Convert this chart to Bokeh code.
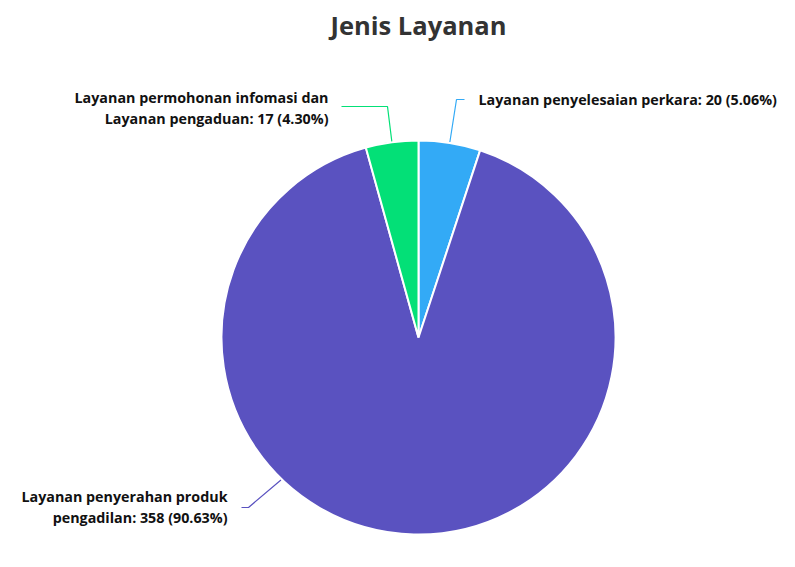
import math
from bokeh.plotting import figure
from bokeh.models import Range1d
from bokeh.core.properties import value
from bokeh.embed import file_html
from bokeh.resources import INLINE

# ---- data ----
title = "Jenis Layanan"
categories = [
    "Layanan penyelesaian perkara",
    "Layanan penyerahan produk pengadilan",
    "Layanan permohonan infomasi dan Layanan pengaduan",
]
values = [20, 358, 17]
colors = ["#33AAF6", "#5A52C0", "#03E077"]
# label text lines (how the label wraps)
label_lines = [
    ["Layanan penyelesaian perkara: {v} ({p})"],
    ["Layanan penyerahan produk", "pengadilan: {v} ({p})"],
    ["Layanan permohonan infomasi dan", "Layanan pengaduan: {v} ({p})"],
]

# ---- layout (screen pixel coordinates) ----
W, H = 779, 551
cx, cy, R = 418, 337, 197
FONT = "Open Sans"

def Y(py):
    return H - py

label_layout = [
    dict(anchor_deg=None, elbow=(456, 99), end=(464, 99), tx=478, align="left", ty=99),
    dict(anchor_deg=224, elbow=(248, 507), end=(241, 507), tx=227, align="right", ty=496),
    dict(anchor_deg=None, elbow=(387, 106), end=(341, 106), tx=328, align="right", ty=97),
]

p = figure(width=W, height=H, output_backend="svg", toolbar_location=None,
           x_range=Range1d(0, W), y_range=Range1d(0, H),
           min_border=0, outline_line_color=None)
p.axis.visible = False
p.grid.visible = False
p.background_fill_color = "white"
p.border_fill_color = "white"

total = sum(values)
cum = 0.0
for i, v in enumerate(values):
    frac = v / total
    a0 = math.pi / 2 - 2 * math.pi * cum
    a1 = math.pi / 2 - 2 * math.pi * (cum + frac)
    p.wedge(x=[cx], y=[Y(cy)], radius=R, start_angle=a0, end_angle=a1,
            direction="clock", fill_color=colors[i], line_color="white", line_width=2)
    mid_deg = 360 * (cum + frac / 2)
    cum += frac

    lay = label_layout[i]
    ang = lay["anchor_deg"] if lay["anchor_deg"] is not None else mid_deg
    th = math.radians(ang)
    sx = cx + (R + 1) * math.sin(th)
    sy = cy - (R + 1) * math.cos(th)
    ex, ey = lay["elbow"]
    fx, fy = lay["end"]
    p.line(x=[sx, ex, fx], y=[Y(sy), Y(ey), Y(fy)], line_color=colors[i], line_width=1.2)

    pct = f"{frac * 100:.2f}%"
    for k, ln in enumerate(label_lines[i]):
        p.text(x=[lay["tx"]], y=[Y(lay["ty"] + 21 * k)], text=[ln.format(v=v, p=pct)],
               text_font=value(FONT), text_font_style="bold", text_font_size="14.3px",
               text_color="#111111", text_align=lay["align"], text_baseline="middle")

p.text(x=[418], y=[Y(24)], text=[title], text_font=value(FONT), text_font_style="bold",
       text_font_size="25.5px", text_color="#333333", text_align="center", text_baseline="middle")

open("out.html", "w").write(file_html(p, INLINE))
